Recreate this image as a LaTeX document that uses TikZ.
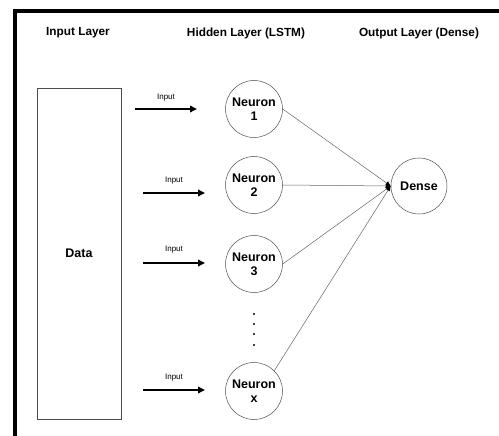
\documentclass[tikz,border=0pt]{standalone}
\usepackage{fontspec}
\setmainfont{Liberation Sans}
\usetikzlibrary{arrows.meta}
\begin{document}
\begin{tikzpicture}[x=1pt,y=-1pt]
    \tikzset{
    layer/.style={font=\bfseries\fontsize{11.8}{13}\selectfont},
    neuron/.style={circle,draw=black!70,line width=0.5pt,minimum size=57pt,inner sep=0pt,align=center,font=\bfseries\fontsize{12.5}{14}\selectfont},
    inp/.style={-{Triangle[length=7pt,width=6.5pt]},line width=1.8pt},
    inlbl/.style={font=\fontsize{8}{9}\selectfont},
    w/.style={-{Latex[length=5pt,width=4.5pt,color=black]},draw=black!60,line width=0.5pt},
    }
    \useasboundingbox (0,0) rectangle (499,436);
    % frame
    \draw[line width=3.2pt] (15,436) -- (15,11) -- (499,11);
    % layer titles
    \node[layer] (t1) at (78,33) {Input Layer};
    \node[layer] (t2) at (246,33) {Hidden Layer (LSTM)};
    \node[layer] (t3) at (419,33) {Output Layer (Dense)};
    % data block
    \node[draw=black!70,line width=0.5pt,minimum width=84pt,minimum height=331pt,font=\bfseries\fontsize{12.5}{14}\selectfont] (data) at (79,253.5) {Data};
    % hidden neurons
    \node[neuron] (n1) at (254,109) {Neuron\\1};
    \node[neuron] (n2) at (254,185) {Neuron\\2};
    \node[neuron] (n3) at (254,264) {Neuron\\3};
    \node[neuron] (nx) at (254,391) {Neuron\\x};
    \foreach \y in {314,324,334,345}
        \fill (254,\y) circle (1.1pt);
    % output
    \node[neuron,minimum size=56pt] (dense) at (419,186) {Dense};
    % inputs
    \coordinate (a1) at (135,109); \coordinate (b1) at (197,109);
    \coordinate (a2) at (143,193); \coordinate (b2) at (205,193);
    \coordinate (a3) at (143,263); \coordinate (b3) at (205,263);
    \coordinate (a4) at (143,390); \coordinate (b4) at (205,390);
    \draw[inp] (a1) -- node[inlbl,above=4pt] {Input} (b1);
    \draw[inp] (a2) -- node[inlbl,above=5pt] {Input} (b2);
    \draw[inp] (a3) -- node[inlbl,above=6pt] {Input} (b3);
    \draw[inp] (a4) -- node[inlbl,above=5pt] {Input} (b4);
    % weights
    \draw[w] (n1.east) -- (dense.west);
    \draw[w] (n2.east) -- (dense.west);
    \draw[w] (n3.east) -- (dense.west);
    \draw[w] (nx.north east) -- (dense.west);
\end{tikzpicture}
\end{document}
